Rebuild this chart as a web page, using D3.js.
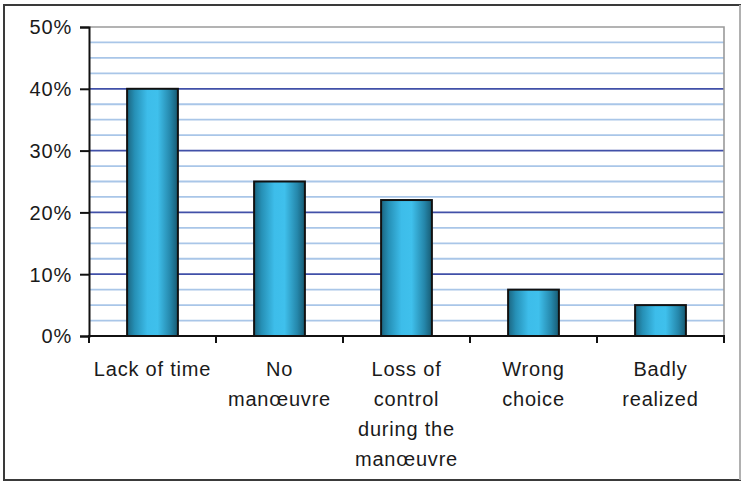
<!DOCTYPE html>
<html>
<head>
<meta charset="utf-8">
<script src="https://cdn.jsdelivr.net/npm/d3@7"></script>
<style>
  html, body { margin: 0; padding: 0; background: #fff; }
  svg { display: block; }
  text { font-family: "Liberation Sans", Arial, sans-serif; fill: #1a1a1a; letter-spacing: 0.8px; }
</style>
</head>
<body>
<svg id="chart" width="742" height="483"></svg>
<script>
// Causes of failed avoidance, share of cases
const categories = [
  ["Lack of time"],
  ["No", "manœuvre"],
  ["Loss of", "control", "during the", "manœuvre"],
  ["Wrong", "choice"],
  ["Badly", "realized"]
];
const values = [0.40, 0.25, 0.22, 0.075, 0.05];
const yTicks = [0, 0.1, 0.2, 0.3, 0.4, 0.5];
const yMinor = d3.range(0.025, 0.5, 0.025);

const svg = d3.select("#chart");
const W = 742, H = 483;
const plot = { left: 89, right: 724, top: 27, bottom: 336 };
const fontSize = 20;

// outer frame
svg.append("rect")
  .attr("x", 4).attr("y", 5).attr("width", W - 6).attr("height", H - 8)
  .attr("fill", "#fff").attr("stroke", "#3a3a3a").attr("stroke-width", 2);
svg.append("line").attr("x1", 740).attr("x2", 740).attr("y1", 5).attr("y2", 480)
  .attr("stroke", "#b0b0b0").attr("stroke-width", 2);

const x = d3.scaleBand()
  .domain(d3.range(categories.length))
  .range([plot.left, plot.right])
  .paddingInner(0.6).paddingOuter(0.3);
const xb = d3.scaleBand()
  .domain(d3.range(categories.length))
  .range([plot.left, plot.right]);
const y = d3.scaleLinear().domain([0, 0.5]).range([plot.bottom, plot.top]);

// bar gradient
const defs = svg.append("defs");
const g = defs.append("linearGradient").attr("id", "barGrad")
  .attr("x1", "0%").attr("x2", "100%").attr("y1", "0%").attr("y2", "0%");
[["0%", "#1b6580"], ["15%", "#2690b6"], ["40%", "#3dbdea"], ["60%", "#3fc0ec"],
 ["85%", "#2587ab"], ["100%", "#175a72"]].forEach(([o, c]) =>
  g.append("stop").attr("offset", o).attr("stop-color", c));

// minor gridlines
svg.append("g").selectAll("line")
  .data(yMinor.filter(v => Math.abs(v * 10 - Math.round(v * 10)) > 1e-6))
  .join("line")
  .attr("x1", plot.left).attr("x2", plot.right)
  .attr("y1", d => y(d)).attr("y2", d => y(d))
  .attr("stroke", "#a9c6e8").attr("stroke-width", 1.8);

// major gridlines
svg.append("g").selectAll("line")
  .data(yTicks.filter(v => v > 0 && v < 0.5))
  .join("line")
  .attr("x1", plot.left).attr("x2", plot.right)
  .attr("y1", d => y(d)).attr("y2", d => y(d))
  .attr("stroke", "#4150a8").attr("stroke-width", 1.8);

// plot-area border (top and right)
svg.append("path")
  .attr("d", `M${plot.left},${plot.top}H${plot.right}V${plot.bottom}`)
  .attr("fill", "none").attr("stroke", "#9a9a9a").attr("stroke-width", 1.6);

// bars
svg.append("g").selectAll("rect")
  .data(values)
  .join("rect")
  .attr("x", (d, i) => x(i))
  .attr("width", x.bandwidth())
  .attr("y", d => y(d))
  .attr("height", d => y(0) - y(d))
  .attr("fill", "url(#barGrad)")
  .attr("stroke", "#111").attr("stroke-width", 2);

// y axis
const yAxis = d3.axisLeft(y).tickValues(yTicks)
  .tickFormat(d3.format(".0%")).tickSize(9).tickPadding(8);
const ya = svg.append("g").attr("transform", `translate(${plot.left},0)`).call(yAxis);
ya.select(".domain").attr("stroke", "#111").attr("stroke-width", 2);
ya.selectAll(".tick line").attr("stroke", "#111").attr("stroke-width", 2);
ya.selectAll(".tick text")
  .attr("font-size", fontSize).attr("dy", "0.34em")
  .style("font-family", "'Liberation Sans', Arial, sans-serif").attr("fill", "#1a1a1a");

// x axis line and ticks at category boundaries
svg.append("line")
  .attr("x1", plot.left - 1).attr("x2", plot.right + 1)
  .attr("y1", plot.bottom).attr("y2", plot.bottom)
  .attr("stroke", "#111").attr("stroke-width", 2);
svg.append("g").selectAll("line")
  .data(d3.range(categories.length + 1))
  .join("line")
  .attr("x1", i => i < categories.length ? xb(i) : plot.right)
  .attr("x2", i => i < categories.length ? xb(i) : plot.right)
  .attr("y1", plot.bottom).attr("y2", plot.bottom + 7)
  .attr("stroke", "#111").attr("stroke-width", 2);

// category labels
const labels = svg.append("g").selectAll("text")
  .data(categories)
  .join("text")
  .attr("text-anchor", "middle")
  .attr("font-size", fontSize)
  .attr("x", (d, i) => xb(i) + xb.bandwidth() / 2)
  .attr("y", 376);
labels.selectAll("tspan")
  .data(d => d)
  .join("tspan")
  .attr("x", function () { return this.parentNode.getAttribute("x"); })
  .attr("dy", (d, i) => i === 0 ? 0 : 30)
  .text(d => d);
</script>
</body>
</html>
